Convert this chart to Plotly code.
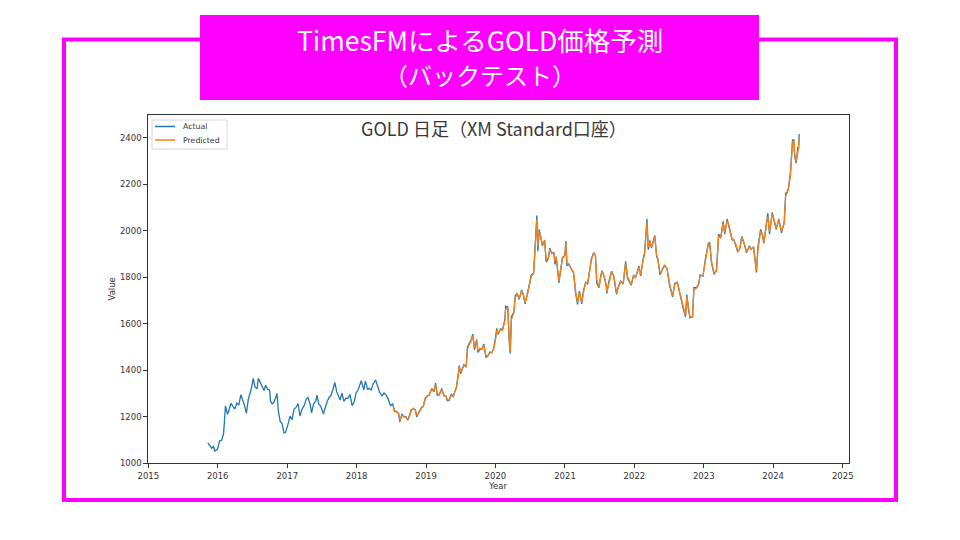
import plotly.graph_objects as go

# ---------------- data ----------------
actual_dates = [
    "2015-11-10","2015-11-20","2015-12-01","2015-12-10","2015-12-17","2015-12-31",
    "2016-01-11","2016-01-21","2016-02-01","2016-02-11","2016-02-22","2016-03-01","2016-03-11","2016-03-21","2016-03-31",
    "2016-04-11","2016-04-21","2016-05-02","2016-05-11","2016-05-20","2016-05-31","2016-06-10","2016-06-24","2016-07-06",
    "2016-07-15","2016-07-26","2016-08-02","2016-08-11","2016-08-22","2016-09-01","2016-09-09","2016-09-20","2016-09-30",
    "2016-10-05","2016-10-14","2016-10-25","2016-11-08","2016-11-15","2016-11-25","2016-12-05","2016-12-15","2016-12-23",
    "2017-01-04","2017-01-16","2017-01-26","2017-02-06","2017-02-16","2017-02-27","2017-03-09","2017-03-20","2017-03-31",
    "2017-04-11","2017-04-20","2017-05-01","2017-05-09","2017-05-19","2017-05-31","2017-06-06","2017-06-16","2017-06-26",
    "2017-07-10","2017-07-20","2017-07-31","2017-08-10","2017-08-18","2017-08-29","2017-09-08","2017-09-18","2017-09-28",
    "2017-10-06","2017-10-16","2017-10-26","2017-11-06","2017-11-16","2017-11-27","2017-12-08","2017-12-18","2017-12-29",
    "2018-01-10","2018-01-25","2018-02-08","2018-02-16","2018-02-28","2018-03-08","2018-03-19","2018-03-28","2018-04-11",
    "2018-04-20","2018-05-02","2018-05-15","2018-05-25","2018-06-05","2018-06-15","2018-06-28",
    "2018-07-10","2018-07-19","2018-07-31","2018-08-10","2018-08-16","2018-08-27","2018-09-06","2018-09-17","2018-09-27",
    "2018-10-05","2018-10-15","2018-10-26","2018-11-06","2018-11-13","2018-11-26","2018-12-06","2018-12-17","2018-12-28",
    "2019-01-07","2019-01-17","2019-01-31","2019-02-11","2019-02-20","2019-03-01","2019-03-11","2019-03-25","2019-04-05",
    "2019-04-15","2019-04-23","2019-05-02","2019-05-14","2019-05-24","2019-05-31","2019-06-10","2019-06-20","2019-06-25",
    "2019-07-02","2019-07-12","2019-07-19","2019-07-31","2019-08-07","2019-08-13","2019-08-26","2019-09-04","2019-09-13",
    "2019-09-24","2019-10-01","2019-10-11","2019-10-23","2019-11-01","2019-11-12","2019-11-22","2019-12-03","2019-12-13",
    "2019-12-24","2020-01-03","2020-01-08","2020-01-16","2020-01-28","2020-02-07","2020-02-20","2020-02-24","2020-03-06",
    "2020-03-13","2020-03-19","2020-03-25","2020-04-07","2020-04-14","2020-04-24","2020-05-05","2020-05-18","2020-05-28",
    "2020-06-05","2020-06-16","2020-06-26","2020-07-08","2020-07-20","2020-07-28","2020-08-06","2020-08-11","2020-08-18",
    "2020-08-28","2020-09-04","2020-09-16","2020-09-24","2020-10-06","2020-10-13","2020-10-23","2020-11-04","2020-11-09",
    "2020-11-16","2020-11-30","2020-12-09","2020-12-18","2020-12-31","2021-01-06","2021-01-11","2021-01-22","2021-02-03",
    "2021-02-15","2021-02-26","2021-03-08","2021-03-18","2021-03-30","2021-04-09","2021-04-20","2021-04-30","2021-05-10",
    "2021-05-20","2021-06-01","2021-06-10","2021-06-17","2021-06-29","2021-07-08","2021-07-15","2021-07-27","2021-08-06",
    "2021-08-09","2021-08-20","2021-09-03","2021-09-14","2021-09-29","2021-10-08","2021-10-21","2021-11-03","2021-11-16",
    "2021-11-26","2021-12-06","2021-12-15","2021-12-28","2022-01-07","2022-01-25","2022-02-03","2022-02-14","2022-02-24",
    "2022-03-08","2022-03-15","2022-03-24","2022-04-01","2022-04-18","2022-04-28","2022-05-05","2022-05-16","2022-05-31",
    "2022-06-09","2022-06-22","2022-07-05","2022-07-21","2022-08-01","2022-08-15","2022-08-26","2022-09-06","2022-09-15",
    "2022-09-27","2022-10-04","2022-10-12","2022-10-20","2022-11-03","2022-11-10","2022-11-24","2022-12-05","2022-12-13",
    "2022-12-28","2023-01-09","2023-01-25","2023-02-01","2023-02-10","2023-02-24","2023-03-09","2023-03-20","2023-03-31",
    "2023-04-13","2023-04-21","2023-05-04","2023-05-15","2023-05-30","2023-06-09","2023-06-20","2023-06-29","2023-07-10",
    "2023-07-20","2023-08-01","2023-08-14","2023-08-29","2023-09-07","2023-09-20","2023-10-05","2023-10-13","2023-10-27",
    "2023-11-06","2023-11-13","2023-11-28","2023-12-04","2023-12-13","2023-12-27","2024-01-05","2024-01-17","2024-01-31",
    "2024-02-14","2024-02-28","2024-03-07","2024-03-14","2024-03-21","2024-04-01","2024-04-09","2024-04-12","2024-04-19",
    "2024-04-23","2024-05-01","2024-05-10","2024-05-14","2024-05-17",
]

actual_values = [
    1088,1077,1065,1072,1052,1061,
    1097,1098,1128,1247,1210,1231,1258,1245,1233,
    1258,1250,1295,1275,1252,1215,1275,1315,1365,
    1328,1320,1365,1350,1335,1313,1335,1318,1315,
    1267,1255,1265,1300,1225,1180,1170,1130,1133,
    1165,1203,1187,1233,1240,1257,1203,1233,1249,
    1275,1283,1255,1217,1254,1268,1293,1254,1245,
    1213,1245,1268,1285,1290,1316,1348,1308,1285,
    1272,1302,1266,1280,1279,1296,1248,1262,1302,
    1318,1355,1315,1353,1318,1322,1315,1340,1358,
    1335,1305,1290,1302,1293,1278,1248,
    1255,1222,1223,1212,1177,1212,1200,1200,1185,
    1203,1230,1235,1230,1200,1222,1238,1245,1280,
    1290,1292,1322,1307,1345,1293,1295,1322,1291,
    1290,1270,1270,1298,1285,1305,1327,1390,1420,
    1385,1415,1425,1413,1500,1510,1530,1555,1488,
    1532,1477,1490,1492,1513,1455,1462,1478,1475,
    1497,1550,1580,1553,1580,1570,1620,1675,1672,
    1530,1472,1630,1650,1720,1730,1705,1745,1720,
    1685,1725,1762,1810,1817,1945,2065,1912,2005,
    1965,1934,1960,1865,1880,1925,1903,1905,1855,
    1888,1775,1838,1882,1895,1955,1850,1855,1835,
    1818,1730,1683,1740,1685,1745,1778,1770,1835,
    1880,1905,1895,1775,1755,1805,1828,1798,1762,
    1730,1782,1825,1805,1727,1757,1783,1770,1868,
    1795,1780,1765,1810,1797,1848,1805,1870,1908,
    2050,1918,1958,1925,1980,1888,1875,1810,1838,
    1852,1835,1765,1715,1772,1778,1735,1700,1665,
    1630,1725,1665,1625,1630,1755,1755,1770,1810,
    1805,1875,1945,1950,1865,1812,1830,1985,1968,
    2040,1985,2050,2015,1960,1960,1935,1908,1925,
    1975,1945,1905,1935,1920,1930,1820,1930,2005,
    1978,1945,2040,2075,1985,2078,2045,2005,2050,
    1990,2035,2160,2165,2180,2250,2350,2390,2390,
    2320,2290,2360,2355,2415,
]

# backtest predictions start here (same date grid as the actual series)
pred_start = "2018-07-10"
pred_values = [
    1250,1228,1220,1215,1184,1206,1203,1197,1190,
    1199,1225,1238,1228,1206,1218,1235,1243,1275,
    1288,1294,1317,1311,1338,1301,1292,1318,1295,
    1288,1274,1272,1293,1287,1300,1325,1380,1412,
    1392,1410,1420,1417,1490,1505,1525,1548,1495,
    1527,1484,1493,1490,1508,1461,1463,1474,1477,
    1492,1540,1572,1558,1576,1572,1612,1662,1668,
    1545,1482,1618,1646,1712,1727,1708,1740,1723,
    1690,1721,1758,1804,1815,1930,2050,1935,1995,
    1970,1938,1957,1872,1885,1920,1905,1900,1868,
    1885,1782,1832,1878,1892,1945,1862,1856,1838,
    1820,1740,1690,1735,1692,1740,1775,1772,1830,
    1875,1902,1897,1790,1758,1800,1825,1801,1768,
    1737,1778,1820,1808,1733,1754,1780,1772,1860,
    1803,1783,1768,1806,1799,1843,1810,1864,1900,
    2035,1930,1953,1929,1975,1895,1878,1816,1835,
    1850,1837,1772,1720,1767,1776,1740,1705,1670,
    1636,1717,1672,1630,1628,1745,1753,1768,1806,
    1807,1868,1940,1948,1872,1817,1826,1975,1970,
    2032,1992,2043,2018,1965,1958,1938,1912,1922,
    1970,1948,1908,1930,1922,1928,1827,1918,1998,
    1982,1950,2033,2060,1995,2070,2050,2010,2045,
    1998,2030,2148,2162,2176,2240,2340,2380,2388,
    2330,2298,2352,2357,2400,
]
pred_dates = actual_dates[actual_dates.index(pred_start):]

year_ticks = ["2015","2016","2017","2018","2019","2020","2021","2022","2023","2024","2025"]
value_ticks = [1000, 1200, 1400, 1600, 1800, 2000, 2200, 2400]
legend_names = ["Actual", "Predicted"]

slide_title_1 = "TimesFMによるGOLD価格予測"
slide_title_2 = "（バックテスト）"
chart_title = "GOLD 日足（XM Standard口座）"

# ---------------- figure ----------------
W, H = 960, 540
def px(x):
    return x / W
def py(y):
    return 1 - y / H

MAG = "#FF00FF"
AX = "#333333"
BLUE = "#1f77b4"
ORANGE = "#ff7f0e"
TICKFONT = dict(family="DejaVu Sans", size=8.5, color=AX)

fig = go.Figure()
fig.add_trace(go.Scatter(x=actual_dates, y=actual_values, name=legend_names[0], mode="lines",
                         line=dict(color=BLUE, width=1.3)))
fig.add_trace(go.Scatter(x=pred_dates, y=pred_values, name=legend_names[1], mode="lines",
                         line=dict(color=ORANGE, width=1.3)))

fig.update_layout(
    width=W, height=H,
    margin=dict(l=0, r=0, t=0, b=0, pad=0, autoexpand=False),
    paper_bgcolor="white", plot_bgcolor="white",
    showlegend=False,
    xaxis=dict(domain=[px(148.3), px(849)], type="date", automargin=False,
               range=["2015-01-01", "2025-02-03"],
               tickvals=[y + "-01-01" for y in year_ticks], ticktext=year_ticks,
               showline=True, linecolor=AX, linewidth=1, mirror=True,
               ticks="outside", ticklen=4, tickcolor=AX, tickwidth=1,
               showgrid=False, zeroline=False, tickfont=TICKFONT),
    yaxis=dict(domain=[py(463.3), py(115)], range=[1000, 2497], automargin=False,
               tickvals=value_ticks, ticktext=[str(v) for v in value_ticks],
               showline=True, linecolor=AX, linewidth=1, mirror=True,
               ticks="outside", ticklen=4, tickcolor=AX, tickwidth=1,
               showgrid=False, zeroline=False, tickfont=TICKFONT),
)

shapes = [
    # magenta frame
    dict(type="rect", xref="paper", yref="paper", x0=px(64), x1=px(896), y0=py(500), y1=py(39.5),
         line=dict(color=MAG, width=4), fillcolor="rgba(0,0,0,0)", layer="below"),
    # title box
    dict(type="rect", xref="paper", yref="paper", x0=px(200), x1=px(759), y0=py(100), y1=py(15),
         line=dict(width=0), fillcolor=MAG, layer="above"),
    # legend box
    dict(type="rect", xref="paper", yref="paper", x0=px(152), x1=px(227), y0=py(149), y1=py(120),
         line=dict(color="#d6d6d6", width=1), fillcolor="rgba(255,255,255,0.85)", layer="above"),
    # legend line samples
    dict(type="line", xref="paper", yref="paper", x0=px(155), x1=px(175), y0=py(126.5), y1=py(126.5),
         line=dict(color=BLUE, width=1.5), layer="above"),
    dict(type="line", xref="paper", yref="paper", x0=px(155), x1=px(175), y0=py(140), y1=py(140),
         line=dict(color=ORANGE, width=1.5), layer="above"),
]
fig.update_layout(shapes=shapes)

ann = [
    dict(text=slide_title_1 + "<br><span style='font-size:24px'>" + slide_title_2 + "</span>",
         x=px(480), y=py(56), xref="paper", yref="paper", showarrow=False,
         xanchor="center", yanchor="middle", align="center",
         font=dict(family="Noto Sans CJK JP", size=26.5, color="white")),
    dict(text=chart_title, x=px(494), y=py(128), xref="paper", yref="paper", showarrow=False,
         xanchor="center", yanchor="middle",
         font=dict(family="Noto Sans CJK JP", size=18, color="#3a3a3a")),
    dict(text=legend_names[0], x=px(181), y=py(126.5), xref="paper", yref="paper", showarrow=False,
         xanchor="left", yanchor="middle",
         font=dict(family="DejaVu Sans", size=7.8, color=AX)),
    dict(text=legend_names[1], x=px(181), y=py(140), xref="paper", yref="paper", showarrow=False,
         xanchor="left", yanchor="middle",
         font=dict(family="DejaVu Sans", size=7.8, color=AX)),
    dict(text="Value", x=px(111.5), y=py(289), xref="paper", yref="paper", showarrow=False,
         xanchor="center", yanchor="middle", textangle=-90,
         font=dict(family="DejaVu Sans", size=8.5, color=AX)),
    dict(text="Year", x=px(498), y=py(486), xref="paper", yref="paper", showarrow=False,
         xanchor="center", yanchor="middle",
         font=dict(family="DejaVu Sans", size=8.5, color=AX)),
]
fig.update_layout(annotations=ann)

# remove the default page margin so the 960x540 figure sits at the window origin
fig.write_html("out.html", config={"displayModeBar": False},
               post_script="document.body.style.margin='0';document.body.style.overflow='hidden';")
